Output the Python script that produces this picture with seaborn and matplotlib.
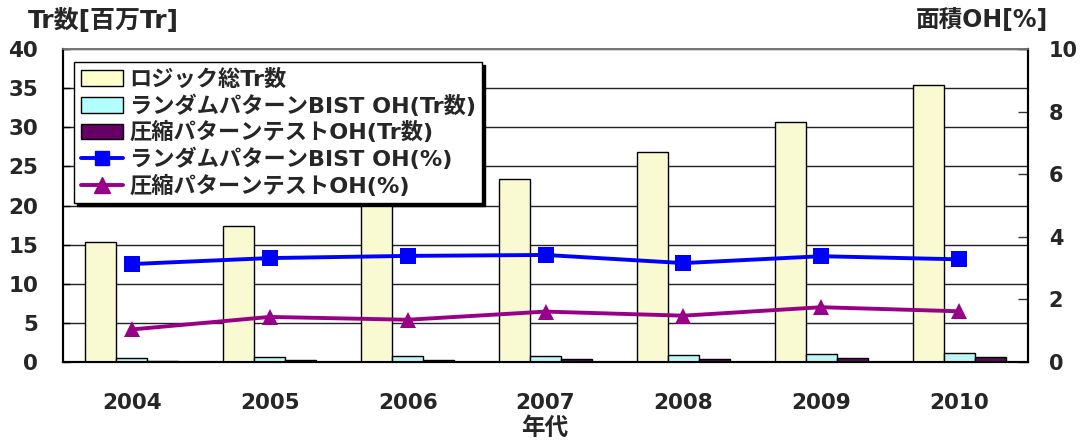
import numpy as np
import pandas as pd
import matplotlib
matplotlib.use("Agg")
import matplotlib.pyplot as plt
from matplotlib.patches import Patch
from matplotlib.lines import Line2D
import seaborn as sns

# Data
years = ["2004", "2005", "2006", "2007", "2008", "2009", "2010"]
logic_tr = [15.3, 17.4, 20.8, 23.4, 26.8, 30.7, 35.4]          # 百万Tr
bist_oh_tr = [0.45, 0.58, 0.72, 0.78, 0.86, 1.02, 1.16]        # 百万Tr
comp_oh_tr = [0.17, 0.26, 0.29, 0.38, 0.40, 0.55, 0.58]        # 百万Tr
bist_oh_pct = [3.13, 3.32, 3.39, 3.42, 3.16, 3.38, 3.28]       # %
comp_oh_pct = [1.04, 1.44, 1.35, 1.61, 1.48, 1.75, 1.62]       # %

bar_names = ["ロジック総Tr数", "ランダムパターンBIST OH(Tr数)", "圧縮パターンテストOH(Tr数)"]
line_names = ["ランダムパターンBIST OH(%)", "圧縮パターンテストOH(%)"]
bar_colors = ["#FFFFCC", "#B3FFFF", "#660066"]
line_colors = ["#0000FF", "#990088"]

sns.set_theme(style="white")
plt.rcParams["font.family"] = ["DejaVu Sans", "Noto Sans CJK JP"]
plt.rcParams["font.weight"] = "bold"

bars = pd.DataFrame({
    "year": years * 3,
    "series": [bar_names[0]] * 7 + [bar_names[1]] * 7 + [bar_names[2]] * 7,
    "value": logic_tr + bist_oh_tr + comp_oh_tr,
})

fig = plt.figure(figsize=(10.81, 4.41), dpi=100)
ax = fig.add_axes([63 / 1081, 1 - 362 / 441, (1028 - 63) / 1081, (362 - 49) / 441])

sns.barplot(data=bars, x="year", y="value", hue="series", palette=bar_colors,
            width=0.675, gap=0, edgecolor="black", linewidth=1.0,
            legend=False, ax=ax, zorder=3)

ax.set_ylim(0, 40)
ax.set_xlim(-0.5, len(years) - 0.5)
ax.set_yticks(np.arange(0, 41, 5))
ax.yaxis.grid(True, color="#222222", linewidth=1.0, zorder=0)
ax.xaxis.grid(False)
ax.set_axisbelow(True)
ax.set_xlabel("")
ax.set_ylabel("")
ax.tick_params(axis="y", direction="in", length=5, width=1, color="black",
               labelsize=15.5, pad=18)
ax.tick_params(axis="x", which="major", length=0, labelsize=15.5, pad=22)
ax.set_xticks(np.arange(-0.5, len(years), 1.0), minor=True)
ax.tick_params(axis="x", which="minor", direction="in", length=8, width=1, color="black")
for lbl in ax.get_xticklabels() + ax.get_yticklabels():
    lbl.set_fontweight("bold")
for side in ["left", "bottom", "right"]:
    ax.spines[side].set_color("black")
    ax.spines[side].set_linewidth(1.5)
ax.spines["top"].set_color("#777777")
ax.spines["top"].set_linewidth(1.2)

# Overhead percentage lines on the secondary axis
ax2 = ax.twinx()
pos = np.arange(len(years))
sns.lineplot(x=pos, y=bist_oh_pct, ax=ax2, color=line_colors[0], linewidth=2.8,
             marker="s", markersize=11, markeredgewidth=0, zorder=5)
sns.lineplot(x=pos, y=comp_oh_pct, ax=ax2, color=line_colors[1], linewidth=2.8,
             marker="^", markersize=12, markeredgewidth=0, zorder=5)
ax2.set_ylim(0, 10)
ax2.set_yticks(np.arange(0, 11, 2))
ax2.tick_params(axis="y", direction="in", length=7, width=1, color="#333333",
                labelsize=15, pad=15)
for lbl in ax2.get_yticklabels():
    lbl.set_fontweight("bold")
ax2.grid(False)
for side in ["left", "bottom", "right"]:
    ax2.spines[side].set_color("black")
    ax2.spines[side].set_linewidth(1.5)
ax2.spines["top"].set_color("#777777")
ax2.spines["top"].set_linewidth(1.2)

# Legend
handles = [Patch(facecolor=c, edgecolor="black", linewidth=1.0) for c in bar_colors]
handles += [Line2D([], [], color=line_colors[0], linewidth=2.8, marker="s", markersize=10),
            Line2D([], [], color=line_colors[1], linewidth=2.8, marker="^", markersize=11)]
leg = ax2.legend(handles, bar_names + line_names,
                 loc="upper left", bbox_to_anchor=(74 / 1081, 1 - 62 / 441),
                 bbox_transform=fig.transFigure,
                 frameon=True, fancybox=False, framealpha=1,
                 shadow={"color": "black", "alpha": 1.0},
                 edgecolor="black", borderpad=0.3, labelspacing=0.2,
                 handlelength=1.9, handletextpad=0.3, borderaxespad=0,
                 prop={"size": 16, "weight": "bold"})
leg.get_frame().set_linewidth(1.0)
leg.set_zorder(10)

# Axis titles
fig.text(28 / 1081, 1 - 20 / 441, "Tr数[百万Tr]", fontsize=18, fontweight="bold",
         ha="left", va="center")
fig.text(1048 / 1081, 1 - 20 / 441, "面積OH[%]", fontsize=17, fontweight="bold",
         ha="right", va="center")
fig.text(545 / 1081, 1 - 428 / 441, "年代", fontsize=17, fontweight="bold",
         ha="center", va="center")

fig.savefig("out.png", dpi=100, facecolor="white")
